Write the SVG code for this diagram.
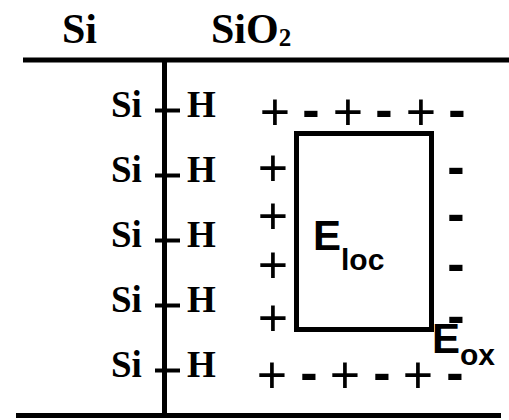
<svg xmlns="http://www.w3.org/2000/svg" width="509" height="420" viewBox="0 0 509 420">
<style>
.ser{font-family:"Liberation Serif","Times New Roman",serif;font-weight:bold;fill:#000}
.lbl{font-size:42px}
.row{font-size:37px}
.pm{font-family:"Liberation Sans",Arial,sans-serif;font-size:52px;fill:#000;text-anchor:middle}
.mn{font-weight:bold}
.e{font-family:"Liberation Sans",Arial,sans-serif;font-weight:bold;font-size:42px;fill:#000}
.sub{font-size:30px}
.ln{stroke:#000;stroke-width:5;fill:none}
.tick{stroke:#000;stroke-width:4}
</style>
<rect width="509" height="420" fill="#fff"/>
<g id="labels">
<text class="ser lbl" x="62" y="43">Si</text>
<text class="ser lbl" x="211" y="43">SiO<tspan font-size="25" dy="3">2</tspan></text>
</g>
<g id="interfaces">
<line class="ln" x1="23" y1="60" x2="509" y2="60"/>
<line class="ln" x1="16" y1="415.5" x2="501" y2="415.5"/>
<line class="ln" x1="164.5" y1="60" x2="164.5" y2="415"/>
</g>
<g id="bonds">
<g id="bond1"><text class="ser row" x="111" y="117">Si</text><line class="tick" x1="155" y1="110.5" x2="180" y2="110.5"/><text class="ser row" x="187" y="117">H</text></g>
<g id="bond2"><text class="ser row" x="111" y="182">Si</text><line class="tick" x1="155" y1="175.5" x2="180" y2="175.5"/><text class="ser row" x="187" y="182">H</text></g>
<g id="bond3"><text class="ser row" x="111" y="247">Si</text><line class="tick" x1="155" y1="240.5" x2="180" y2="240.5"/><text class="ser row" x="187" y="247">H</text></g>
<g id="bond4"><text class="ser row" x="111" y="312">Si</text><line class="tick" x1="155" y1="305.5" x2="180" y2="305.5"/><text class="ser row" x="187" y="312">H</text></g>
<g id="bond5"><text class="ser row" x="111" y="377">Si</text><line class="tick" x1="155" y1="370.5" x2="180" y2="370.5"/><text class="ser row" x="187" y="377">H</text></g>
</g>
<g id="charges">
<text class="pm" x="275" y="130">+</text><text class="pm mn" x="311" y="127">-</text>
<text class="pm" x="348" y="130">+</text><text class="pm mn" x="384" y="127">-</text>
<text class="pm" x="421" y="130">+</text><text class="pm mn" x="457" y="127">-</text>
<text class="pm" x="273" y="186">+</text>
<text class="pm" x="273" y="234">+</text>
<text class="pm" x="273" y="283">+</text>
<text class="pm" x="273" y="336">+</text>
<text class="pm mn" x="456" y="184">-</text>
<text class="pm mn" x="456" y="231">-</text>
<text class="pm mn" x="456" y="281">-</text>
<text class="pm mn" x="456" y="333">-</text>
<text class="pm" x="272" y="393">+</text><text class="pm mn" x="309" y="390">-</text>
<text class="pm" x="345" y="393">+</text><text class="pm mn" x="382" y="390">-</text>
<text class="pm" x="418" y="393">+</text><text class="pm mn" x="455" y="390">-</text>
</g>
<g id="eloc">
<rect class="ln" x="296.5" y="133.5" width="135" height="196"/>
<text class="e" x="313" y="250">E<tspan class="sub" dy="20">loc</tspan></text>
</g>
<g id="eox">
<text class="e" x="432" y="353">E<tspan class="sub" dy="12">ox</tspan></text>
</g>
</svg>
